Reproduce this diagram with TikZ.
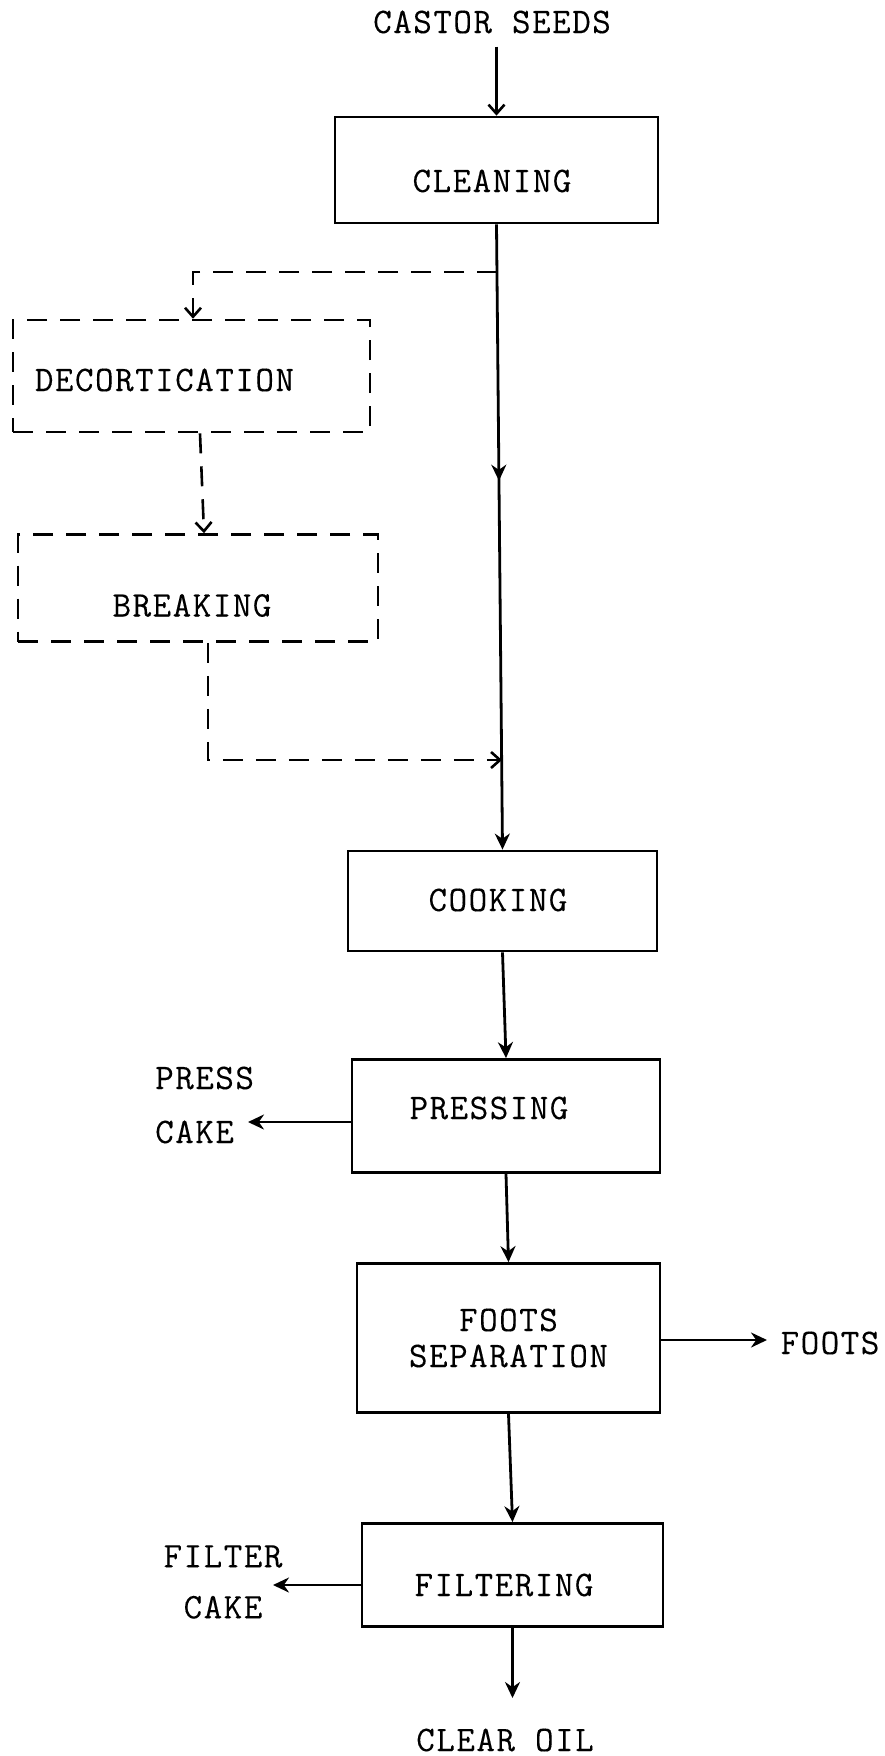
\documentclass[tikz,border=0pt]{standalone}
\usepackage{fontspec}
\setmainfont[LetterSpace=4.2,FakeBold=0.2]{Latin Modern Mono}
\usetikzlibrary{arrows.meta,decorations.markings,calc}
\newcommand{\hsh}[2]{\hspace*{#1}#2\hspace*{-#1}}
\begin{document}
\begin{tikzpicture}[x=1pt,y=-1pt,
  every node/.style={font=\fontsize{36}{36}\selectfont},
  proc/.style={draw, line width=2.8pt, rectangle, inner sep=0pt, align=center},
  dproc/.style={draw, line width=2.6pt, dash pattern=on 20pt off 13pt, rectangle, inner sep=0pt},
  lbl/.style={inner sep=0pt, align=center},
  vs/.style={text height=#1, text depth=0pt},
  flow/.style={line width=2.8pt, -{Stealth[length=16pt,width=15pt]}},
  inflow/.style={line width=2.6pt, -{Straight Barb[length=9pt,width=16pt,line width=2.6pt]}},
  dflow/.style={line width=2.6pt, dash pattern=on 20pt off 13pt, -{Straight Barb[length=9pt,width=16pt,line width=2.6pt]}},
  midarrow/.style={postaction={decorate}, decoration={markings, mark=at position #1 with {\arrow{Stealth[length=16pt,width=15pt]}}}},
]
\useasboundingbox (0,0) rectangle (885,1756);

% nodes
\node[lbl] (castor) at (492,22) {CASTOR SEEDS};
\node[proc, vs=44pt, minimum width=323pt, minimum height=106pt] (cleaning) at (496.5,170) {\hsh{-4.5pt}{CLEANING}};
\node[dproc, vs=30pt, minimum width=357pt, minimum height=112pt] (decort) at (191.5,376) {\hsh{-27pt}{DECORTICATION}};
\node[dproc, vs=57pt, minimum width=360pt, minimum height=107pt] (breaking) at (198,588) {\hsh{-6pt}{BREAKING}};
\node[proc, vs=20pt, minimum width=309pt, minimum height=100pt] (cooking) at (502.5,901) {\hsh{-4.5pt}{COOKING}};
\node[proc, vs=6pt, minimum width=308pt, minimum height=113pt] (pressing) at (506,1116) {\hsh{-17pt}{PRESSING}};
\node[proc, minimum width=303pt, minimum height=149pt] (footsep) at (508.5,1338) {FOOTS\\SEPARATION};
\node[proc, vs=42pt, minimum width=301pt, minimum height=103pt] (filtering) at (512.5,1575) {\hsh{-8.5pt}{FILTERING}};

\node[lbl, align=left, anchor=west] (presscake) at (155,1105) {PRESS\\[18pt]CAKE};
\node[lbl] (filtercake) at (223,1582) {FILTER\\[15pt]CAKE};
\node[lbl] (foots) at (830,1343) {FOOTS};
\node[lbl] (clearoil) at (505,1740) {CLEAR OIL};

% coordinates for free ends / junctions
\coordinate (j1) at (497,272);
\coordinate (j2) at (502,760);
\coordinate (pcend) at (248,1122);
\coordinate (fend) at (767,1340);
\coordinate (fcend) at (273,1585);
\coordinate (oilend) at (518,1698);

% connectors
\draw[inflow, shorten <=13pt] (castor.south -| cleaning.north) -- (cleaning.north);
\draw[flow, midarrow=0.41] (cleaning.south) -- (cooking.north);
\draw[dflow] (j1) -| ([xshift=1.5pt]decort.north);
\draw[dflow] ([xshift=8.5pt]decort.south) -- ([xshift=6pt]breaking.north);
\draw[dflow] ([xshift=10pt]breaking.south) |- (j2);
\draw[flow] (cooking.south) -- (pressing.north);
\draw[flow] (pressing.west |- pcend) -- (pcend);
\draw[flow] (pressing.south) -- (footsep.north);
\draw[flow] (footsep.east |- fend) -- (fend);
\draw[flow] (footsep.south) -- (filtering.north);
\draw[flow] (filtering.west |- fcend) -- (fcend);
\draw[flow] (filtering.south) -- (filtering.south |- oilend);
\end{tikzpicture}
\end{document}
